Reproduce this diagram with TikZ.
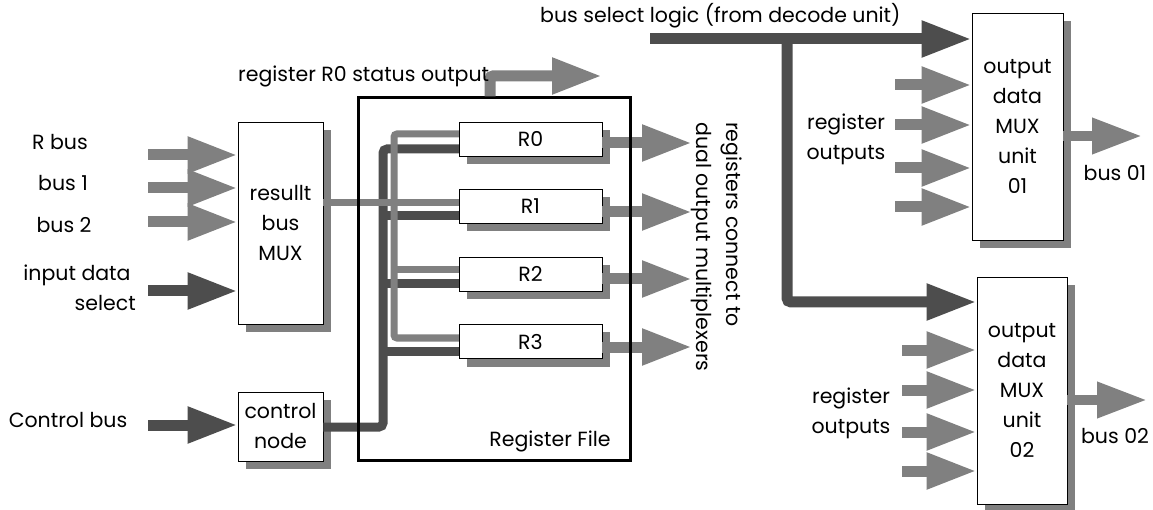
\documentclass[tikz,border=0pt]{standalone}
\usepackage{fontspec}
\setmainfont{Poppins}
\usetikzlibrary{arrows.meta,shadows,calc}
\definecolor{lightg}{HTML}{808080}
\definecolor{darkg}{HTML}{4D4D4D}
\begin{document}
\begin{tikzpicture}[x=1pt,y=-1pt,
  lbl/.style={font=\fontsize{20.5}{30}\selectfont, inner sep=0pt, text height=1.5ex, text depth=.3ex},
  box/.style={draw=black, line width=0.8pt, fill=white, inner sep=0pt, align=center,
    font=\fontsize{20.5}{30}\selectfont,
    drop shadow={shadow xshift=8pt, shadow yshift=-8pt, fill=lightg, opacity=1}},
  regbox/.style={box, minimum width=143pt, minimum height=34pt},
  larrow/.style={draw=lightg, line width=11pt, -{Triangle[length=50pt,width=34pt,fill=lightg]}},
  darrow/.style={draw=darkg, line width=11pt, -{Triangle[length=50pt,width=34pt,fill=darkg]}},
  lline/.style={draw=lightg, line width=7pt},
  dline/.style={draw=darkg, line width=9pt},
]
\useasboundingbox (0,0) rectangle (1153,510);

% ---------- boxes ----------
\node[box, minimum width=85pt, minimum height=202pt] (mux) at (280.5,223) {resullt\\bus\\MUX};
\node[box, minimum width=85pt, minimum height=69pt] (ctrl) at (280.5,426.5) {control\\node};
\node[box, minimum width=91pt, minimum height=227pt] (M1) at (1017.5,126.5) {output\\data\\MUX\\unit\\01};
\node[box, minimum width=90pt, minimum height=227pt] (M2) at (1022,390.5) {output\\data\\MUX\\unit\\02};

% ---------- left labels and input arrows ----------
\node[lbl] (lr) at (60,146) {R bus};
\node[lbl] (l1) at (63,187) {bus 1};
\node[lbl] (l2) at (64,229) {bus 2};
\node[lbl] (li) at (77,277) {input data};
\node[lbl, anchor=east] (ls) at (136,307) {select};
\node[lbl] (lc) at (68,424) {Control bus};

\coordinate (ir) at (148,155);
\coordinate (i1) at (148,188);
\coordinate (i2) at (148,222);
\coordinate (id) at (148,291);
\coordinate (ic) at (148,425);
\draw[larrow] (ir) -- (ir -| mux.west);
\draw[larrow] (i1) -- (i1 -| mux.west);
\draw[larrow] (i2) -- (i2 -| mux.west);
\draw[darrow] (id) -- (id -| mux.west);
\draw[darrow] (ic) -- (ic -| ctrl.west);

% ---------- register file internal wiring ----------
\coordinate (cv) at (383,427);
\coordinate (lv) at (394,203);

\path (530.5,139) coordinate (r0c) (530.5,206) coordinate (r1c)
      (530.5,274) coordinate (r2c) (530.5,341.5) coordinate (r3c);

% dark control bus
\draw[dline, rounded corners=4pt] (ctrl.east |- cv) -- (cv) -- ($(cv |- r0c)+(0,10)$) -- ($(r0c)+(-71.5,10)$);
\draw[dline] ($(cv |- r1c)+(0,10)$) -- ($(r1c)+(-71.5,10)$);
\draw[dline] ($(cv |- r2c)+(0,10)$) -- ($(r2c)+(-71.5,10)$);
\draw[dline] ($(cv |- r3c)+(0,10)$) -- ($(r3c)+(-71.5,10)$);

% light result bus
\draw[lline] (mux.east |- lv) -- ($(r1c)+(-71.5,-3)$);
\draw[lline, rounded corners=3pt] ($(r0c)+(-71.5,-5)$) -- ($(lv |- r0c)+(0,-5)$) -- ($(lv |- r3c)+(0,-3.5)$) -- ($(r3c)+(-71.5,-3.5)$);
\draw[lline] ($(lv |- r2c)+(0,-4)$) -- ($(r2c)+(-71.5,-4)$);

% register boxes
\node[regbox] (R0) at (r0c) {R0};
\node[regbox] (R1) at (r1c) {R1};
\node[regbox] (R2) at (r2c) {R2};
\node[regbox] (R3) at (r3c) {R3};

% register outputs
\coordinate (q0) at (692,143);
\coordinate (q1) at (692,212);
\coordinate (q2) at (692,279);
\coordinate (q3) at (692,347);
\draw[larrow] (R0.east |- q0) -- (q0);
\draw[larrow] (R1.east |- q1) -- (q1);
\draw[larrow] (R2.east |- q2) -- (q2);
\draw[larrow] (R3.east |- q3) -- (q3);

% register file frame
\node[draw=black, line width=3pt, minimum width=272pt, minimum height=362pt, inner sep=0pt] (RF) at (494,279) {};
\node[lbl] (rft) at (550,443) {Register File};

% status output
\coordinate (st) at (490,76);
\coordinate (st2) at (602,76);
\draw[larrow, rounded corners=3pt] (RF.north -| st) -- (st) -- (st2);
\node[lbl, anchor=west] (stl) at (238,78) {register R0 status output};

% rotated labels
\node[lbl, rotate=-90, anchor=west] (rc1) at (730,122) {registers connect to};
\node[lbl, rotate=-90, anchor=west] (rc2) at (700,122) {dual output multiplexers};

% ---------- bus select logic ----------
\node[lbl, anchor=west] (bsl) at (540,19) {bus select logic (from decode unit)};
\coordinate (bs) at (650,39);
\coordinate (bsb) at (787,39);
\coordinate (bs2) at (787,302);
\draw[darrow] (bs) -- (bs -| M1.west);
\draw[darrow, rounded corners=4pt] (bsb) -- (bs2) -- (bs2 -| M2.west);

% ---------- MUX 01 inputs / output ----------
\coordinate (a1) at (895,85);
\coordinate (a2) at (895,125);
\coordinate (a3) at (895,168);
\coordinate (a4) at (895,207);
\draw[larrow] (a1) -- (a1 -| M1.west);
\draw[larrow] (a2) -- (a2 -| M1.west);
\draw[larrow] (a3) -- (a3 -| M1.west);
\draw[larrow] (a4) -- (a4 -| M1.west);
\node[lbl] (ro1) at (846,126) {register};
\node[lbl] (ro1b) at (846,156) {outputs};
\coordinate (o1) at (1142,136);
\draw[larrow, line width=10pt] (M1.east |- o1) -- (o1);
\node[lbl] (b01) at (1115,177) {bus 01};

% ---------- MUX 02 inputs / output ----------
\coordinate (b1) at (902,350);
\coordinate (b2) at (902,390);
\coordinate (b3) at (902,432);
\coordinate (b4) at (902,471);
\draw[larrow] (b1) -- (b1 -| M2.west);
\draw[larrow] (b2) -- (b2 -| M2.west);
\draw[larrow] (b3) -- (b3 -| M2.west);
\draw[larrow] (b4) -- (b4 -| M2.west);
\node[lbl] (ro2) at (851,400) {register};
\node[lbl] (ro2b) at (851,430) {outputs};
\coordinate (o2) at (1147,400);
\draw[larrow, line width=10pt] (M2.east |- o2) -- (o2);
\node[lbl] (b02) at (1115,440) {bus 02};
\end{tikzpicture}
\end{document}
